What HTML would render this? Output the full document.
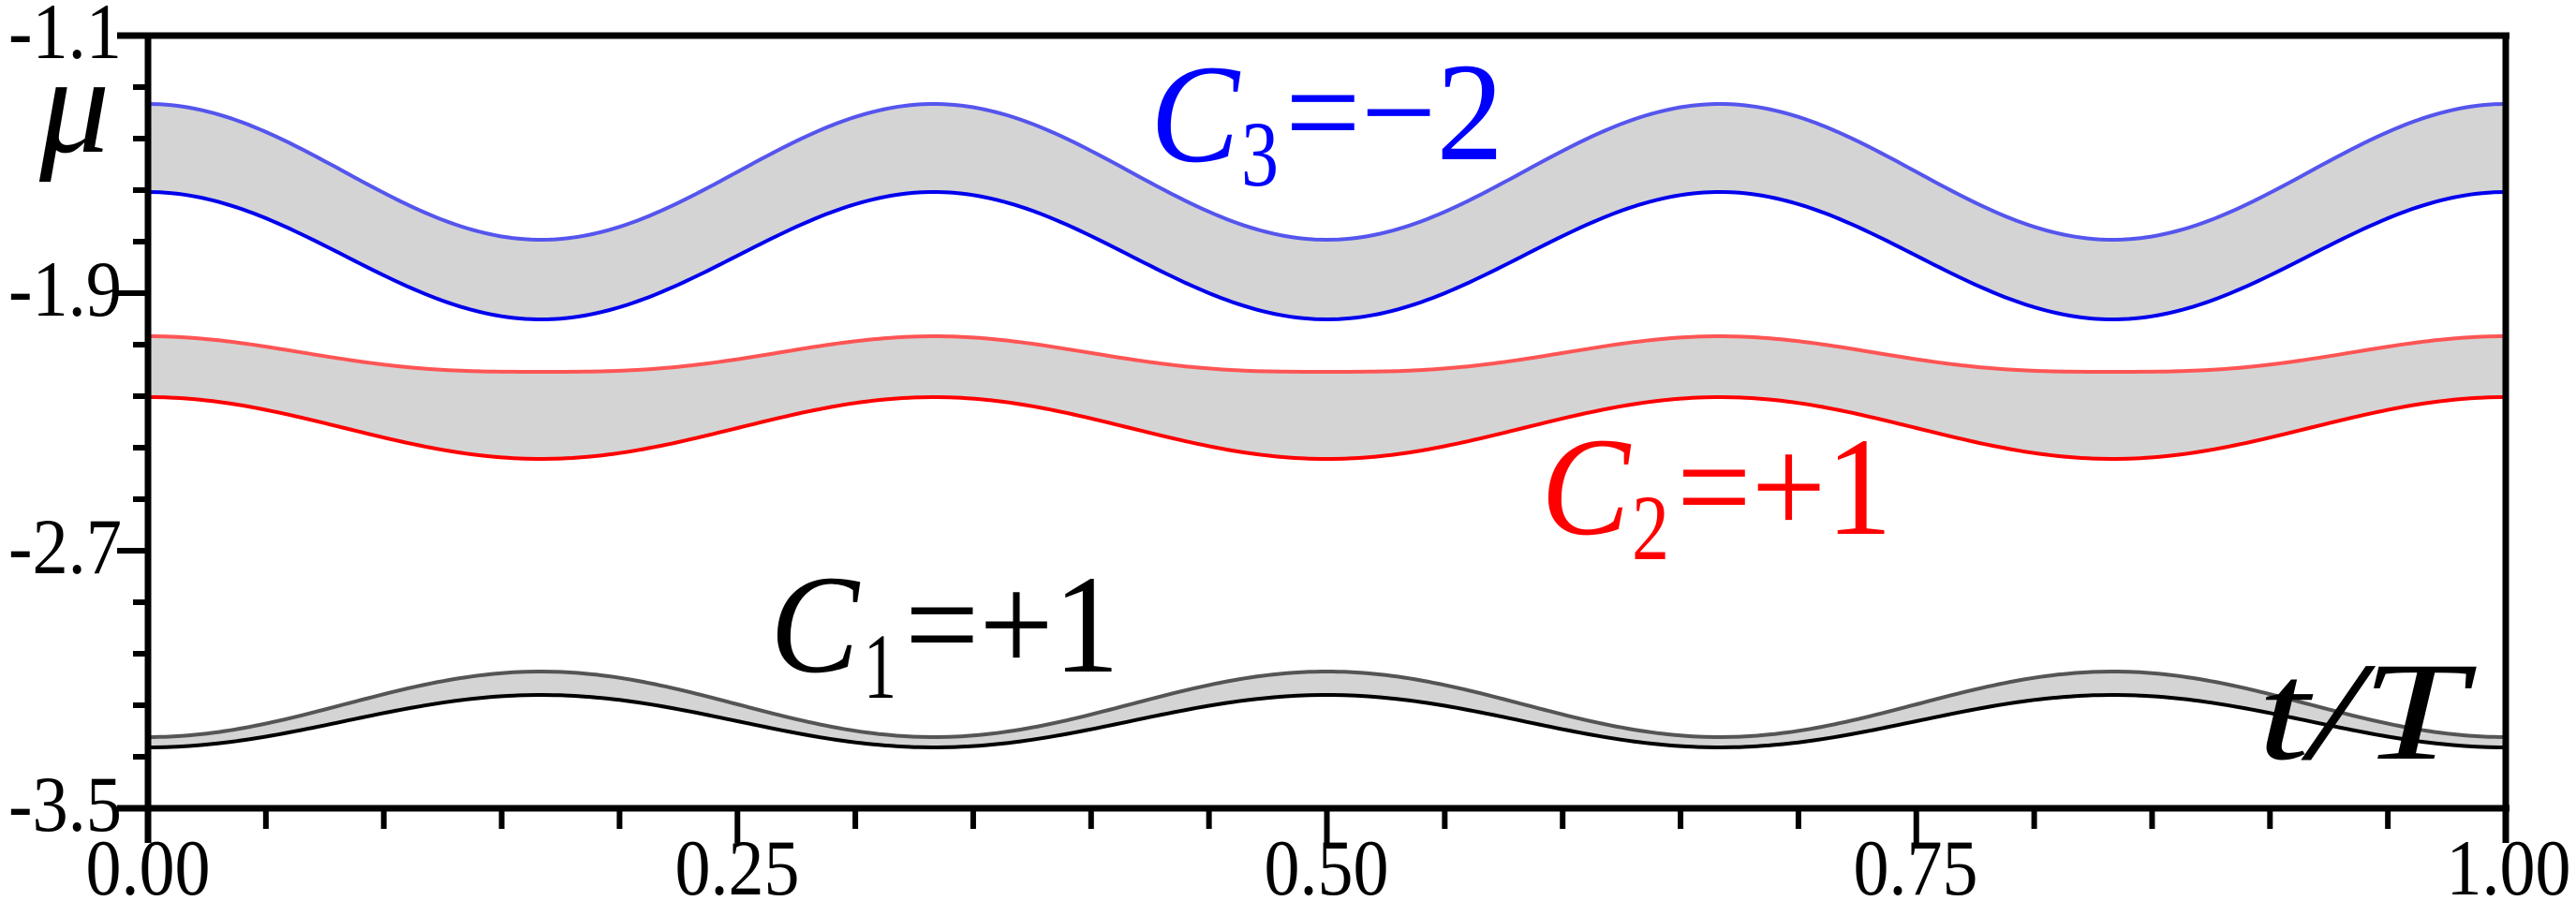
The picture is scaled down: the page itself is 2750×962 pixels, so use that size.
<!DOCTYPE html>
<html><head><meta charset="utf-8"><style>
html,body{margin:0;padding:0;background:#fff;}
svg{display:block;}
</style></head><body>
<svg id="s" width="2750" height="962" viewBox="0 0 2750 962" xmlns="http://www.w3.org/2000/svg" font-family="'Liberation Serif', serif">
<g id="bands"></g>
<g id="axes"></g>
<g font-size="85" fill="#000">
<text x="130" y="62" text-anchor="end" textLength="121" lengthAdjust="spacingAndGlyphs">-1.1</text>
<text x="130" y="337" text-anchor="end" textLength="121" lengthAdjust="spacingAndGlyphs">-1.9</text>
<text x="130" y="612" text-anchor="end" textLength="121" lengthAdjust="spacingAndGlyphs">-2.7</text>
<text x="130" y="887" text-anchor="end" textLength="121" lengthAdjust="spacingAndGlyphs">-3.5</text>
<text x="158" y="955" text-anchor="middle" textLength="133" lengthAdjust="spacingAndGlyphs">0.00</text>
<text x="787" y="955" text-anchor="middle" textLength="133" lengthAdjust="spacingAndGlyphs">0.25</text>
<text x="1416" y="955" text-anchor="middle" textLength="133" lengthAdjust="spacingAndGlyphs">0.50</text>
<text x="2045" y="955" text-anchor="middle" textLength="133" lengthAdjust="spacingAndGlyphs">0.75</text>
<text x="2678" y="955" text-anchor="middle" textLength="133" lengthAdjust="spacingAndGlyphs">1.00</text>
</g>
<text x="42" y="162" font-size="150" font-style="italic" font-family="'Liberation Serif', serif">μ</text>
<g fill="#0000ff" font-family="'Liberation Serif', serif">
<text x="1228" y="172" font-size="150" font-style="italic" textLength="95" lengthAdjust="spacingAndGlyphs">C</text>
<text x="1325" y="198" font-size="100" textLength="40" lengthAdjust="spacingAndGlyphs">3</text>
<text x="1372" y="170" font-size="150" textLength="233" lengthAdjust="spacingAndGlyphs">=−2</text>
</g>
<g fill="#ff0000" font-family="'Liberation Serif', serif">
<text x="1645" y="570" font-size="150" font-style="italic" textLength="95" lengthAdjust="spacingAndGlyphs">C</text>
<text x="1742" y="597" font-size="100" textLength="40" lengthAdjust="spacingAndGlyphs">2</text>
<text x="1790" y="570" font-size="150" textLength="230" lengthAdjust="spacingAndGlyphs">=+1</text>
</g>
<g fill="#000" font-family="'Liberation Serif', serif">
<text x="822" y="717" font-size="150" font-style="italic" textLength="95" lengthAdjust="spacingAndGlyphs">C</text>
<text x="922" y="745" font-size="100" textLength="35" lengthAdjust="spacingAndGlyphs">1</text>
<text x="966" y="717" font-size="150" textLength="229" lengthAdjust="spacingAndGlyphs">=+1</text>
<text x="2410" y="810" font-size="150" font-style="italic" textLength="222" lengthAdjust="spacingAndGlyphs">t/T</text>
</g>
</svg>
<script>
(function(){
var NS="http://www.w3.org/2000/svg";
function X(t){return 158+t*2517;}
function c(t){return Math.cos(6*Math.PI*t);}
var bands=[
 {u:function(t){return 183.5-72.5*c(t);},l:function(t){return 273-68*c(t);},cu:"#5555ee",cl:"#0000ee"},
 {u:function(t){var f=(1+c(t))/2;return 397-38*Math.pow(f,1.5);},l:function(t){return 457-33*c(t);},cu:"#ff5555",cl:"#ff0000"},
 {u:function(t){return 752+35*c(t);},l:function(t){return 770+28*c(t);},cu:"#555555",cl:"#000000"}
];
var g=document.getElementById("bands");
var N=400;
bands.forEach(function(b){
  var up=[],lo=[];
  for(var i=0;i<=N;i++){var t=i/N;up.push(X(t).toFixed(1)+","+b.u(t).toFixed(1));lo.push(X(t).toFixed(1)+","+b.l(t).toFixed(1));}
  var p=document.createElementNS(NS,"path");
  p.setAttribute("d","M"+up.join(" L")+" L"+lo.slice().reverse().join(" L")+"Z");
  p.setAttribute("fill","#d4d4d4");g.appendChild(p);
  [[up,b.cu],[lo,b.cl]].forEach(function(a){
    var q=document.createElementNS(NS,"path");
    q.setAttribute("d","M"+a[0].join(" L"));q.setAttribute("fill","none");
    q.setAttribute("stroke",a[1]);q.setAttribute("stroke-width","4");g.appendChild(q);
  });
});
var ax=document.getElementById("axes");
function line(x1,y1,x2,y2,w){var l=document.createElementNS(NS,"line");
 l.setAttribute("x1",x1);l.setAttribute("y1",y1);l.setAttribute("x2",x2);l.setAttribute("y2",y2);
 l.setAttribute("stroke","#000");l.setAttribute("stroke-width",w);ax.appendChild(l);}
line(125,38,2679,38,7);
line(125,863,2679,863,7);
line(158,38,158,900,7);
line(2675,35,2675,900,7);
for(var k=0;k<=15;k++){var y=38+k*55;if(k%5==0)line(125,y,158,y,6);else line(142,y,158,y,6);}
for(var j=0;j<=20;j++){var x=158+j*125.85;if(j%5==0)line(x,863,x,900,6);else line(x,863,x,885,6);}
})();
</script>
</body></html>
